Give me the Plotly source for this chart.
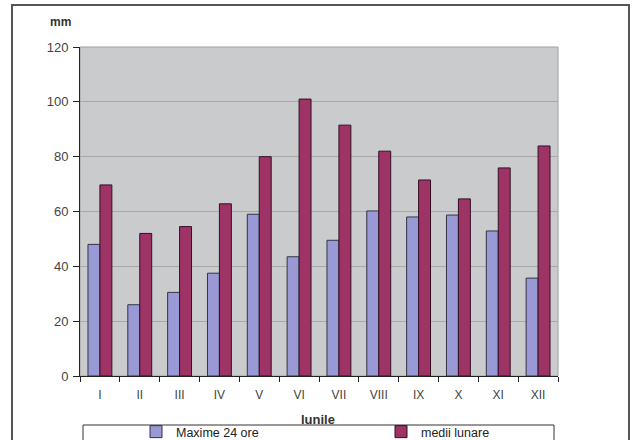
import plotly.graph_objects as go

months = ["I", "II", "III", "IV", "V", "VI", "VII", "VIII", "IX", "X", "XI", "XII"]
maxime_24_ore = [48, 26, 30.5, 37.5, 59, 43.5, 49.5, 60.2, 58, 58.7, 52.9, 35.7]
medii_lunare = [69.7, 52, 54.5, 62.8, 80, 101, 91.5, 82, 71.5, 64.6, 75.9, 83.9]

W, H = 636, 440
L, R, T, B = 80, 78, 47, 64
pw, ph = W - L - R, H - T - B

def px_x(px):
    return (px - L) / pw

def px_y(py):
    return (H - B - py) / ph

FAM = "Liberation Sans, Arial, sans-serif"
font = dict(family=FAM, size=12, color="#333333")

fig = go.Figure()
fig.add_trace(go.Bar(x=months, y=maxime_24_ore, name="Maxime 24 ore", legend="legend",
                     marker=dict(color="#9999D6", line=dict(color="#333344", width=1))))
fig.add_trace(go.Bar(x=months, y=medii_lunare, name="medii lunare", legend="legend2",
                     marker=dict(color="#9E3366", line=dict(color="#331122", width=1))))

leg_common = dict(orientation="h", xanchor="left", yanchor="top", itemwidth=30,
                  bgcolor="rgba(0,0,0,0)", font=dict(family=FAM, size=12.5, color="#222222"))

fig.update_layout(
    width=W, height=H,
    margin=dict(l=L, r=R, t=T, b=B, autoexpand=False),
    paper_bgcolor="white",
    plot_bgcolor="#C9CBCC",
    barmode="group", bargap=0.4, bargroupgap=0,
    font=font,
    showlegend=True,
    legend=dict(x=px_x(136), y=px_y(417), **leg_common),
    legend2=dict(x=px_x(381), y=px_y(417), **leg_common),
    xaxis=dict(type="category", tickson="boundaries", ticks="outside", ticklen=5,
               tickcolor="#222222", showline=True, linecolor="#222222", linewidth=1,
               showgrid=False, ticklabelstandoff=8,
               tickfont=dict(family=FAM, size=12, color="#444444")),
    yaxis=dict(range=[0, 120], dtick=20, ticks="outside", ticklen=6, tickcolor="#222222",
               showline=True, linecolor="#222222", linewidth=1,
               gridcolor="#A8A8A8", gridwidth=1, zeroline=False, ticklabelstandoff=2,
               tickfont=dict(family=FAM, size=13, color="#444444")),
)

# plot area border (top/right lighter)
fig.add_shape(type="rect", xref="paper", yref="paper", x0=0, y0=0, x1=1, y1=1,
              line=dict(color="#A0A0A0", width=1), layer="below")
# outer chart frame
fig.add_shape(type="rect", xref="paper", yref="paper",
              x0=px_x(12), x1=px_x(629), y0=px_y(460), y1=px_y(5),
              line=dict(color="#555555", width=2))
# legend box
fig.add_shape(type="rect", xref="paper", yref="paper",
              x0=px_x(83), x1=px_x(554), y0=px_y(460), y1=px_y(425),
              line=dict(color="#333333", width=1))

fig.add_annotation(text="<b>mm</b>", xref="paper", yref="paper", x=px_x(48), y=px_y(22),
                   xanchor="left", yanchor="middle", showarrow=False,
                   font=dict(family=FAM, size=12, color="#333333"))
fig.add_annotation(text="<b>lunile</b>", xref="paper", yref="paper", x=px_x(318), y=px_y(419),
                   xanchor="center", yanchor="middle", showarrow=False,
                   font=dict(family=FAM, size=13, color="#333333"))

fig.write_html("out.html")
